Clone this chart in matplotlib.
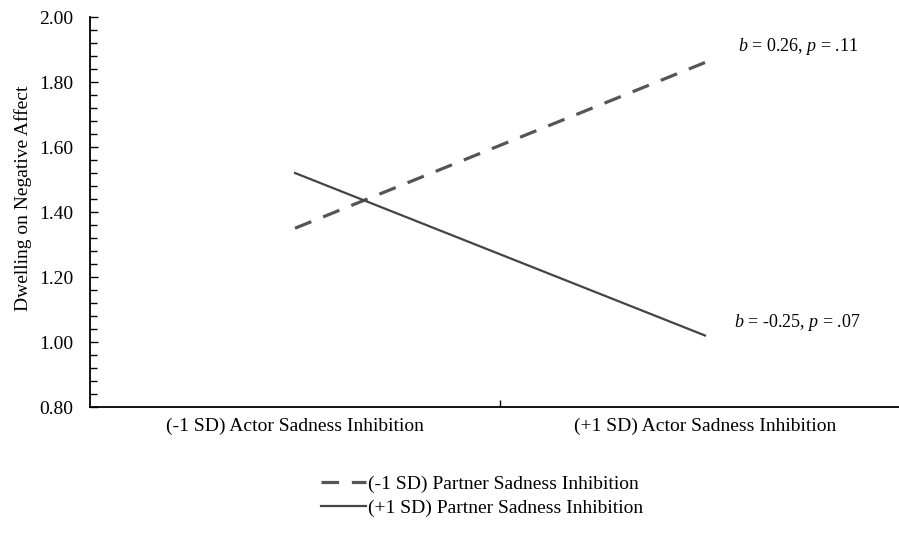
import matplotlib
matplotlib.use("Agg")
import matplotlib.pyplot as plt

plt.rcParams['font.family'] = ['Liberation Serif', 'DejaVu Serif']
plt.rcParams['mathtext.fontset'] = 'custom'
plt.rcParams['mathtext.rm'] = 'Liberation Serif'
plt.rcParams['mathtext.it'] = 'Liberation Serif:italic'

categories = ['(-1 SD) Actor Sadness Inhibition', '(+1 SD) Actor Sadness Inhibition']
low_partner = [1.35, 1.86]
high_partner = [1.52, 1.02]
series_labels = ['(-1 SD) Partner Sadness Inhibition', '(+1 SD) Partner Sadness Inhibition']
slope_labels = [r'$b$ = 0.26, $p$ = .11', r'$b$ = -0.25, $p$ = .07']
yticks = [0.80, 1.00, 1.20, 1.40, 1.60, 1.80, 2.00]

W, H = 899, 533
fig = plt.figure(figsize=(W / 100, H / 100), dpi=100)
ax = fig.add_axes([90 / W, 1 - 407 / H, 820 / W, 390 / H])

x = [0, 1]
l1, = ax.plot(x, low_partner, color='#555555', lw=2.3, dashes=(5.5, 4),
              solid_capstyle='butt', dash_capstyle='butt')
l2, = ax.plot(x, high_partner, color='#444444', lw=1.6)

ax.text(1.08, 1.91, slope_labels[0], fontsize=13, va='center', ha='left')
ax.text(1.07, 1.06, slope_labels[1], fontsize=13, va='center', ha='left')

ax.set_xlim(-0.5, 1.5)
ax.set_ylim(0.80, 2.00)
ax.set_yticks(yticks)
ax.set_yticklabels([f'{v:.2f}' for v in yticks])
ax.set_yticks([v / 100 for v in range(80, 201, 4)], minor=True)
ax.set_xticks(x)
ax.set_xticklabels(categories)
ax.set_xticks([0.5], minor=True)

for s in ['top', 'right']:
    ax.spines[s].set_visible(False)
for s in ['left', 'bottom']:
    ax.spines[s].set_linewidth(1.3)
    ax.spines[s].set_color('black')

ax.tick_params(axis='y', which='both', direction='in', width=1, labelsize=14, pad=12)
ax.tick_params(axis='y', which='major', length=6)
ax.tick_params(axis='y', which='minor', length=5)
ax.tick_params(axis='x', which='major', length=0, labelsize=14, pad=8)
ax.tick_params(axis='x', which='minor', direction='in', length=5, width=1)

ax.set_ylabel('Dwelling on Negative Affect', fontsize=14, labelpad=5)
ax.yaxis.label.set_y(0.536)

fig.legend([l1, l2], series_labels, loc='center', bbox_to_anchor=(482 / W, 1 - 496 / H),
           frameon=False, fontsize=14, handlelength=2.3, handletextpad=0.1,
           labelspacing=0.3)

fig.savefig('out.png', dpi=100)
